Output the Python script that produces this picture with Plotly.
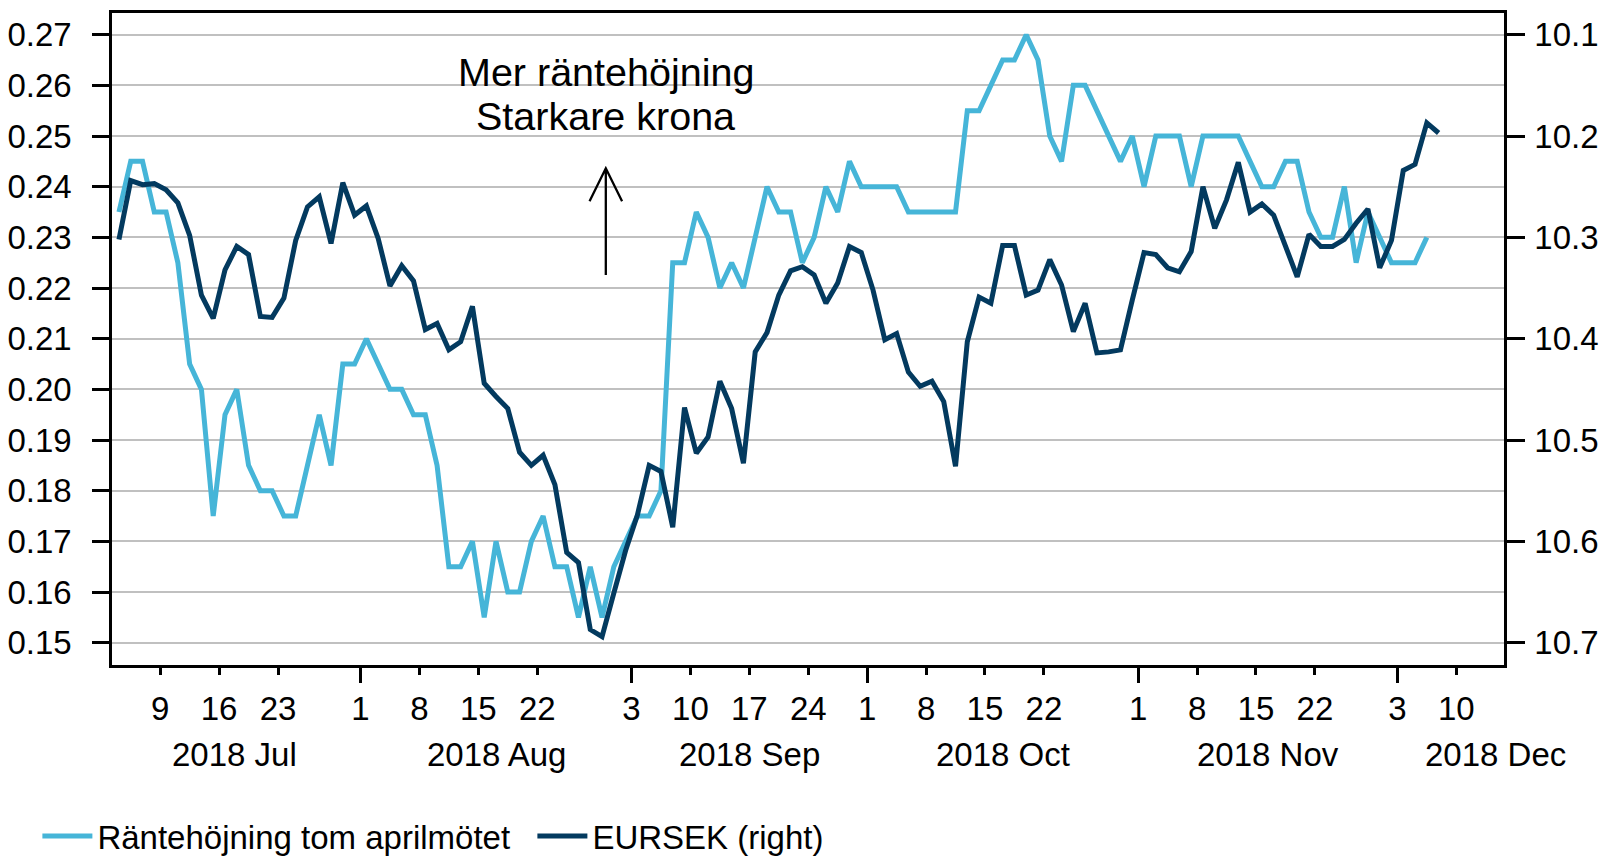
import numpy as np
import pandas as pd
import plotly.graph_objects as go

# ---------------- data ----------------
SERIES_START = "2018-07-04"
AXIS_ORIGIN = "2018-07-02"

rate_hike = [0.235, 0.245, 0.245, 0.235, 0.235, 0.225, 0.205, 0.200, 0.175, 0.195,
             0.200, 0.185, 0.180, 0.180, 0.175, 0.175, 0.185, 0.195, 0.185, 0.205,
             0.205, 0.210, 0.205, 0.200, 0.200, 0.195, 0.195, 0.185, 0.165, 0.165,
             0.170, 0.155, 0.170, 0.160, 0.160, 0.170, 0.175, 0.165, 0.165, 0.155,
             0.165, 0.155, 0.165, 0.170, 0.175, 0.175, 0.180, 0.225, 0.225, 0.235,
             0.230, 0.220, 0.225, 0.220, 0.230, 0.240, 0.235, 0.235, 0.225, 0.230,
             0.240, 0.235, 0.245, 0.240, 0.240, 0.240, 0.240, 0.235, 0.235, 0.235,
             0.235, 0.235, 0.255, 0.255, 0.260, 0.265, 0.265, 0.270, 0.265, 0.250,
             0.245, 0.260, 0.260, 0.255, 0.250, 0.245, 0.250, 0.240, 0.250, 0.250,
             0.250, 0.240, 0.250, 0.250, 0.250, 0.250, 0.245, 0.240, 0.240, 0.245,
             0.245, 0.235, 0.230, 0.230, 0.240, 0.225, 0.235, 0.230, 0.225, 0.225,
             0.225, 0.230]

eursek = [10.302, 10.244, 10.248, 10.247, 10.253, 10.266, 10.298, 10.357, 10.380, 10.332,
          10.309, 10.317, 10.378, 10.379, 10.360, 10.303, 10.270, 10.260, 10.306, 10.246,
          10.278, 10.269, 10.301, 10.348, 10.328, 10.343, 10.391, 10.385, 10.411, 10.403,
          10.368, 10.444, 10.457, 10.469, 10.512, 10.525, 10.515, 10.544, 10.611, 10.621,
          10.687, 10.694, 10.651, 10.609, 10.574, 10.525, 10.531, 10.586, 10.468, 10.513,
          10.497, 10.442, 10.469, 10.523, 10.413, 10.394, 10.357, 10.333, 10.329, 10.337,
          10.365, 10.345, 10.309, 10.315, 10.352, 10.401, 10.395, 10.433, 10.447, 10.442,
          10.462, 10.526, 10.403, 10.359, 10.365, 10.308, 10.308, 10.357, 10.352, 10.322,
          10.347, 10.393, 10.365, 10.414, 10.413, 10.411, 10.362, 10.315, 10.317, 10.330,
          10.334, 10.314, 10.250, 10.291, 10.263, 10.226, 10.275, 10.267, 10.278, 10.309,
          10.339, 10.297, 10.309, 10.309, 10.302, 10.286, 10.272, 10.330, 10.303, 10.234,
          10.228, 10.187, 10.197]

tick_dates = ["2018-07-09", "2018-07-16", "2018-07-23", "2018-08-01", "2018-08-08",
              "2018-08-15", "2018-08-22", "2018-09-03", "2018-09-10", "2018-09-17",
              "2018-09-24", "2018-10-01", "2018-10-08", "2018-10-15", "2018-10-22",
              "2018-11-01", "2018-11-08", "2018-11-15", "2018-11-22", "2018-12-03",
              "2018-12-10"]
month_labels = ["2018 Jul", "2018 Aug", "2018 Sep", "2018 Oct", "2018 Nov", "2018 Dec"]
left_ticks = [0.15, 0.16, 0.17, 0.18, 0.19, 0.20, 0.21, 0.22, 0.23, 0.24, 0.25, 0.26, 0.27]
right_ticks = [10.1, 10.2, 10.3, 10.4, 10.5, 10.6, 10.7]
names = ["Räntehöjning tom aprilmötet", "EURSEK (right)"]
note_lines = ["Mer räntehöjning", "Starkare krona"]

# ---------------- positions / styles ----------------
month_label_pos = [11.8, 34.0, 55.5, 77.0, 99.5, 118.8]
TICK_SHIFT = 0.5
X_RANGE = [1.41, 119.55]
Y_RANGE = [0.1456, 0.27428]
Y2_RANGE = [10.722, 10.0786]
LIGHT = "#46B5D8"
DARK = "#033A5F"
FONT = "Liberation Sans, Arial, sans-serif"
TICK_FS = 33

def bday_pos(dates):
    d = np.array(pd.to_datetime(dates).values.astype("datetime64[D]"))
    return np.busday_count(np.datetime64(AXIS_ORIGIN), d)

dark_dates = pd.bdate_range(SERIES_START, periods=len(eursek))
rate_dates = dark_dates[:len(rate_hike)]
x_dark = bday_pos(dark_dates)
x_rate = bday_pos(rate_dates)

tick_dt = pd.to_datetime(tick_dates)
tick_vals = bday_pos(tick_dt) + TICK_SHIFT
tick_text = [str(d.day) for d in tick_dt]
major_vals = [v for k, (v, d) in enumerate(zip(tick_vals, tick_dt))
              if k > 0 and d.month != tick_dt[k - 1].month]

fig = go.Figure()
fig.add_trace(go.Scatter(x=x_dark, y=eursek, name=names[1], yaxis="y2",
                         mode="lines", line=dict(color=DARK, width=5)))
fig.add_trace(go.Scatter(x=x_rate, y=rate_hike, name=names[0],
                         mode="lines", line=dict(color=LIGHT, width=5)))
fig.add_trace(go.Scatter(x=[], y=[], xaxis="x2", showlegend=False, hoverinfo="skip"))

# arrow (in axis units)
ax_x = 43.32
y_tip, y_base, wing_dx, wing_dy = 0.24363, 0.22258, 1.38, 0.0065
fig.add_shape(type="path", xref="x", yref="y",
              path=(f"M{ax_x},{y_base} L{ax_x},{y_tip} "
                    f"M{ax_x - wing_dx},{y_tip - wing_dy} L{ax_x},{y_tip} L{ax_x + wing_dx},{y_tip - wing_dy}"),
              line=dict(color="black", width=2.3))

fig.add_annotation(x=ax_x, y=0.2627, xref="x", yref="y", text=note_lines[0],
                   showarrow=False, font=dict(size=39.5, color="black", family=FONT),
                   xanchor="center", yanchor="middle")
fig.add_annotation(x=ax_x, y=0.2540, xref="x", yref="y", text=note_lines[1],
                   showarrow=False, font=dict(size=39.5, color="black", family=FONT),
                   xanchor="center", yanchor="middle")

for lab, pos in zip(month_labels, month_label_pos):
    fig.add_annotation(x=pos, y=-0.137, xref="x", yref="paper", text=lab,
                       showarrow=False, font=dict(size=TICK_FS, color="black", family=FONT),
                       xanchor="center", yanchor="middle")

axis_common = dict(showline=True, linecolor="black", linewidth=2.5, automargin=False,
                   ticks="outside", tickcolor="black", tickwidth=2.5,
                   tickfont=dict(size=TICK_FS, color="black", family=FONT), zeroline=False)

fig.update_layout(
    width=1606, height=856,
    margin=dict(l=112, r=102, t=13, b=191, autoexpand=False),
    paper_bgcolor="white", plot_bgcolor="white",
    font=dict(family=FONT, color="black"),
    showlegend=True,
    legend=dict(orientation="h", x=-0.0536, xanchor="left", y=-0.2625, yanchor="middle",
                font=dict(size=33, color="black", family=FONT), traceorder="reversed",
                itemwidth=50, entrywidth=430, bgcolor="rgba(0,0,0,0)"),
    xaxis=dict(range=X_RANGE, tickmode="array", tickvals=tick_vals, ticktext=tick_text,
               ticklen=7, mirror=True, showgrid=False, ticklabelstandoff=6, **axis_common),
    xaxis2=dict(range=X_RANGE, overlaying="x", anchor="y", side="bottom", automargin=False,
                tickmode="array", tickvals=major_vals, ticks="outside", ticklen=17,
                tickwidth=2.5, tickcolor="black", showticklabels=False,
                showline=False, showgrid=False, zeroline=False),
    yaxis=dict(range=Y_RANGE, tickmode="array", tickvals=left_ticks, tickformat=".2f",
               ticklen=17, mirror=True, showgrid=True, gridcolor="#C0C0C0", gridwidth=2.4,
               ticklabelstandoff=14, **axis_common),
    yaxis2=dict(range=Y2_RANGE, overlaying="y", side="right", tickmode="array",
                tickvals=right_ticks, tickformat=".1f", ticklen=18, showgrid=False,
                ticklabelstandoff=3, **axis_common),
)

fig.write_html("out.html", config={"displayModeBar": False},
               post_script="document.body.style.margin='0px';document.body.style.overflow='hidden';")
